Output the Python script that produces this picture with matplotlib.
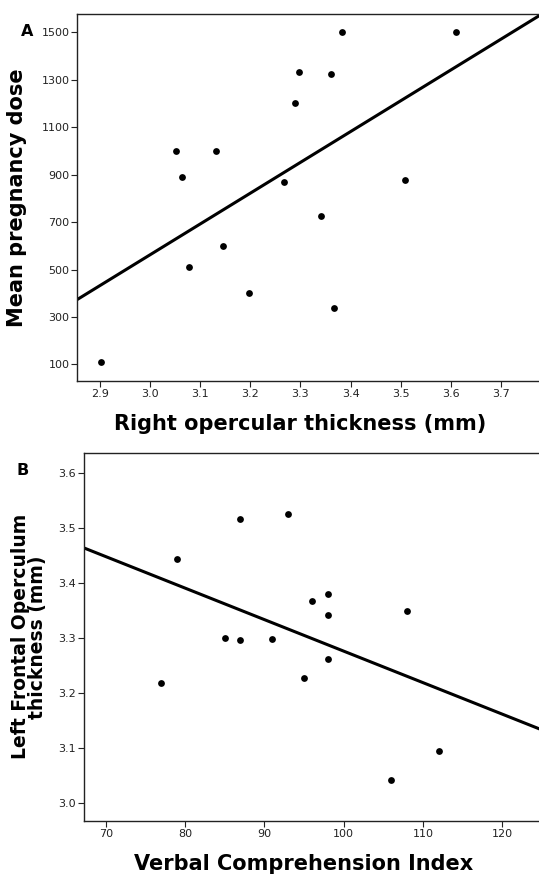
import matplotlib
matplotlib.use('Agg')
import matplotlib.pyplot as plt
import numpy as np

# panel A: right opercular thickness vs mean pregnancy dose
thick_a = [2.901, 3.052, 3.064, 3.078, 3.132, 3.145, 3.198, 3.267, 3.290,
           3.297, 3.341, 3.361, 3.366, 3.382, 3.509, 3.611]
dose_a = [112, 1000, 892, 512, 1000, 600, 400, 869, 1200,
          1333, 724, 1325, 336, 1500, 877, 1500]

# panel B: verbal comprehension index vs left frontal operculum thickness
vci_b = [77, 79, 85, 87, 87, 91, 93, 95, 96, 98, 98, 98, 106, 108, 112]
thick_b = [3.217, 3.443, 3.299, 3.515, 3.295, 3.297, 3.524, 3.227, 3.366,
           3.379, 3.341, 3.261, 3.042, 3.349, 3.095]

plt.rcParams['font.family'] = 'DejaVu Sans'

fig = plt.figure(figsize=(5.39, 8.74), dpi=100)

def style(ax):
    ax.spines['right'].set_visible(False)
    for s in ['left', 'bottom', 'top']:
        ax.spines[s].set_linewidth(1.0)
        ax.spines[s].set_color('#222222')
    ax.tick_params(direction='out', length=4, width=0.8, labelsize=8,
                   colors='#222222', pad=1.5)

# --- A ---
ax1 = fig.add_axes([77/539, 1-381/874, 464/539, 367/874])
ax1.scatter(thick_a, dose_a, s=24, color='black', zorder=3, linewidths=0)
xl = np.array([2.854, 3.78])
k, b = np.polyfit(thick_a, dose_a, 1)
ax1.plot(xl, k*xl + b, color='black', lw=2.2)
ax1.set_xlim(2.854, 3.78)
ax1.set_ylim(30, 1577)
ax1.set_xticks(np.arange(2.9, 3.75, 0.1))
ax1.set_xticklabels(['2.9', '3.0', '3.1', '3.2', '3.3', '3.4', '3.5', '3.6', '3.7'])
ax1.set_yticks(range(100, 1600, 200))
style(ax1)
ax1.set_xlabel('Right opercular thickness (mm)', fontsize=15, fontweight='bold', labelpad=11)
ax1.xaxis.label.set_x(0.481)
ax1.set_ylabel('Mean pregnancy dose', fontsize=15, fontweight='bold', labelpad=10)
fig.text(27/539, 1-32/874, 'A', fontsize=11.5, fontweight='bold', ha='center', va='center')

# --- B ---
ax2 = fig.add_axes([83.7/539, 1-821/874, 457.3/539, 368.3/874])
ax2.scatter(vci_b, thick_b, s=24, color='black', zorder=3, linewidths=0)
xl2 = np.array([67.23, 124.9])
k2, b2 = np.polyfit(vci_b, thick_b, 1)
ax2.plot(xl2, k2*xl2 + b2, color='black', lw=2.2)
ax2.set_xlim(67.23, 124.9)
ax2.set_ylim(2.967, 3.636)
ax2.set_xticks(range(70, 121, 10))
ax2.set_yticks(np.arange(3.0, 3.65, 0.1))
ax2.set_yticklabels(['3.0', '3.1', '3.2', '3.3', '3.4', '3.5', '3.6'])
style(ax2)
ax2.set_xlabel('Verbal Comprehension Index', fontsize=15, fontweight='bold', labelpad=11)
ax2.xaxis.label.set_x(0.482)
ax2.set_ylabel('Left Frontal Operculum\nthickness (mm)', fontsize=13.5, fontweight='bold',
               labelpad=8, linespacing=0.85)
fig.text(23/539, 1-470/874, 'B', fontsize=11.5, fontweight='bold', ha='center', va='center')

fig.savefig('out.png', dpi=100)
